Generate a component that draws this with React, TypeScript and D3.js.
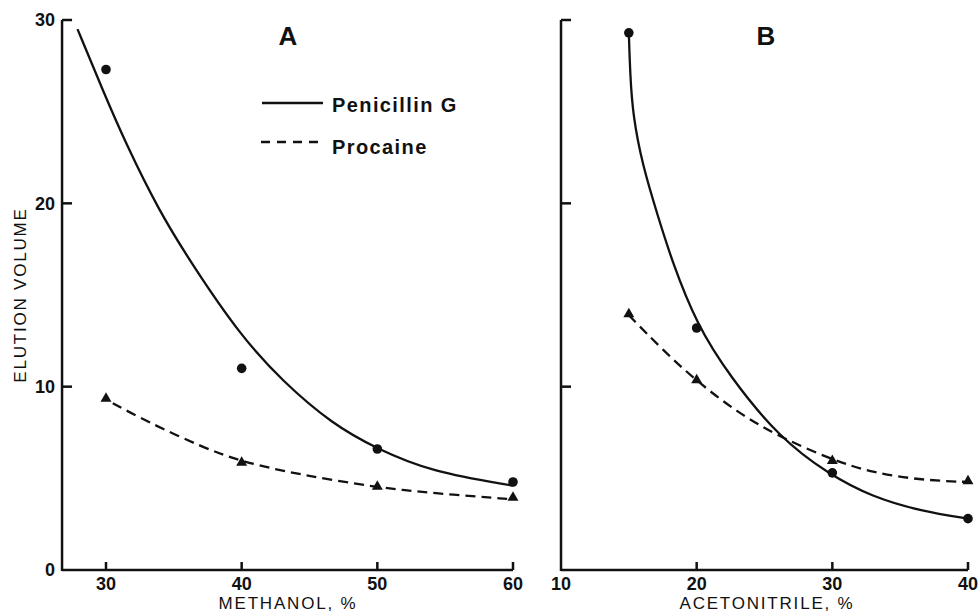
import * as d3 from 'd3'

// measured points
const methanol = [30, 40, 50, 60]
const penA = [27.3, 11.0, 6.6, 4.8]
const proA = [9.3, 5.8, 4.5, 3.9]

const acetonitrile = [15, 20, 30, 40]
const penB = [29.3, 13.2, 5.3, 2.8]
const proB = [13.9, 10.3, 5.9, 4.8]

// drawn fit curves
const penAcurveX = [27.9, 29.8, 31.5, 33.9, 36.4, 39.9, 43.0, 46.7, 50, 54, 60]
const penAcurveY = [29.5, 26.1, 23.2, 19.6, 16.6, 12.8, 10.3, 7.95, 6.6, 5.35, 4.6]
const proAcurveX = [30.5, 33, 37.1, 40, 44.3, 50, 54, 60]
const proAcurveY = [9.1, 8.1, 6.7, 5.9, 5.2, 4.5, 4.2, 3.85]

const penBcurveX = [15, 15.1, 15.3, 16.0, 17.1, 18.2, 20, 22.4, 26.1, 29.8, 32.9, 36.6, 40]
const penBcurveY = [29.3, 27.0, 24.8, 22.1, 19.4, 16.8, 13.4, 10.6, 7.2, 5.2, 4.0, 3.2, 2.8]
const proBcurveX = [15, 17.5, 20, 23, 26, 30, 33, 36.6, 40]
const proBcurveY = [13.9, 12.0, 10.3, 8.6, 7.3, 6.0, 5.3, 4.9, 4.8]

const yTicks = [0, 10, 20, 30]
const xTicksA = [30, 40, 50, 60]
const xTicksB = [10, 20, 30, 40]

const FONT = '"Liberation Sans", Arial, Helvetica, sans-serif'
const INK = '#111'

const y = d3.scaleLinear().domain([0, 30]).range([570, 20])
const xA = d3.scaleLinear().domain([30, 60]).range([106, 513])
const xB = d3.scaleLinear().domain([10, 40]).range([561, 968])

const zip = (xs: number[], ys: number[]) => xs.map((v, i) => [v, ys[i]] as [number, number])

const Curve = ({ x, xs, ys, dashed }: any) => {
    const line = d3.line<[number, number]>()
        .x(d => x(d[0]))
        .y(d => y(d[1]))
        .curve(d3.curveBasis)
    return <path d={line(zip(xs, ys)) || ''} fill="none" stroke={INK} strokeWidth={2.3}
        strokeDasharray={dashed ? '10 6' : undefined} />
}

const Dots = ({ x, xs, ys }: any) => (
    <g>{xs.map((v: number, i: number) =>
        <circle key={i} cx={x(v)} cy={y(ys[i])} r={4.8} fill={INK} />)}</g>
)

const Tris = ({ x, xs, ys }: any) => {
    const sym = d3.symbol().type(d3.symbolTriangle).size(52)
    return <g>{xs.map((v: number, i: number) =>
        <path key={i} d={sym() || ''} transform={`translate(${x(v)},${y(ys[i]) - 1})`} fill={INK} />)}</g>
}

const Axes = ({ x, x0, xTicks, yLabels }: any) => {
    const left = x(x0)
    const right = x(xTicks[xTicks.length - 1])
    return (
        <g stroke={INK} strokeWidth={2.5} fill="none">
            <line x1={left} x2={left} y1={y(0) + 1} y2={y(30)} />
            <line x1={left} x2={right} y1={y(0)} y2={y(0)} />
            {yTicks.filter(t => t > 0).map(t =>
                <line key={t} x1={left} x2={left + 10} y1={y(t)} y2={y(t)} />)}
            {xTicks.filter((t: number) => t > x0).map((t: number) =>
                <line key={t} x1={x(t)} x2={x(t)} y1={y(0)} y2={y(0) - 8} />)}
            <g stroke="none" fill={INK} fontFamily={FONT} fontWeight="bold" fontSize={18}>
                {yLabels && yTicks.map(t =>
                    <text key={t} x={left - 7} y={y(t)} dy="0.36em" textAnchor="end">{t}</text>)}
                {xTicks.map((t: number) =>
                    <text key={t} x={x(t)} y={590} textAnchor="middle">{t}</text>)}
            </g>
        </g>
    )
}

const Legend = () => (
    <g>
        <line x1={262} x2={323} y1={103} y2={103} stroke={INK} strokeWidth={2.5} />
        <line x1={261} x2={323} y1={142} y2={142} stroke={INK} strokeWidth={2.5} strokeDasharray="9 7" />
        <g fontFamily={FONT} fontWeight="bold" fontSize={20} fill={INK} letterSpacing={1.4}>
            <text x={332} y={112}>Penicillin G</text>
            <text x={332} y={154}>Procaine</text>
        </g>
    </g>
)

const PanelLetter = ({ x, label }: any) => (
    <text x={x} y={45} textAnchor="middle" fontFamily={'"Liberation Sans Narrow", ' + FONT}
        fontWeight="bold" fontSize={26} fill={INK}>{label}</text>
)

export default function App() {
    return (
        <svg width={980} height={615} style={{ position: 'absolute', left: 0, top: 0, background: '#fff' }}>
            {/* panel A */}
            <Axes x={xA} x0={26.76} xTicks={xTicksA} yLabels />
            <Curve x={xA} xs={penAcurveX} ys={penAcurveY} />
            <Curve x={xA} xs={proAcurveX} ys={proAcurveY} dashed />
            <Dots x={xA} xs={methanol} ys={penA} />
            <Tris x={xA} xs={methanol} ys={proA} />
            <PanelLetter x={288} label="A" />
            <Legend />

            {/* panel B */}
            <Axes x={xB} x0={10} xTicks={xTicksB} />
            <Curve x={xB} xs={penBcurveX} ys={penBcurveY} />
            <Curve x={xB} xs={proBcurveX} ys={proBcurveY} dashed />
            <Dots x={xB} xs={acetonitrile} ys={penB} />
            <Tris x={xB} xs={acetonitrile} ys={proB} />
            <PanelLetter x={766} label="B" />

            <g fontFamily={FONT} fontSize={17} fill={INK} letterSpacing={1.8}>
                <text transform="translate(26,295) rotate(-90)" textAnchor="middle">ELUTION VOLUME</text>
                <text x={288} y={609} textAnchor="middle">METHANOL, %</text>
                <text x={767} y={609} textAnchor="middle">ACETONITRILE, %</text>
            </g>
        </svg>
    )
}
